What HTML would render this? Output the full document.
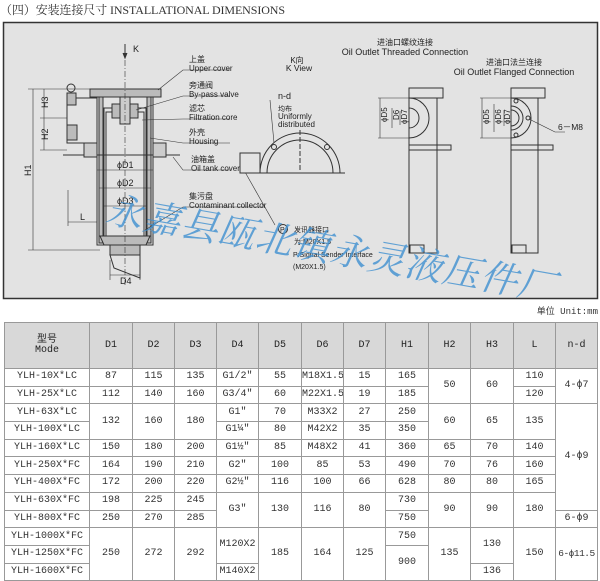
<!DOCTYPE html>
<html><head><meta charset="utf-8"><style>
body{margin:0;width:600px;height:580px;background:#fff;overflow:hidden;font-family:"Liberation Sans","Noto Sans CJK SC",sans-serif}
table{position:absolute;left:4px;top:322px;border-collapse:collapse;font-family:"Liberation Mono","Noto Sans CJK SC",monospace;font-size:10px;line-height:10px;color:#333;table-layout:fixed;width:593px}
td{border:1px solid #999;text-align:center;padding:0;height:16.7px;white-space:nowrap;overflow:hidden}
tr{height:17.7px}
tr.h{height:46px}
tr.h td{background:#d8d8d8;height:45px;font-weight:normal;color:#222}
</style></head><body>
<svg width="600" height="322" style="position:absolute;left:0;top:0" font-family="Liberation Sans, Noto Sans CJK SC, sans-serif">
<text x="0" y="14" font-family="Liberation Serif, Noto Serif CJK SC, serif" font-size="12" fill="#333" textLength="285">（四）安装连接尺寸  INSTALLATIONAL DIMENSIONS</text>
<rect x="3.5" y="22.5" width="594" height="276" fill="#e3e3e3" stroke="#333" stroke-width="1.5"/>
<g stroke="#333" fill="none" stroke-width="1">
<line x1="125" y1="44" x2="125" y2="57"/><path d="M123,53 L125,58 L127,53" fill="#333"/>
<rect x="90" y="89" width="71" height="8" fill="#bbb"/>
<rect x="97" y="97" width="56" height="148" />
<rect x="99" y="97" width="4" height="146" fill="#bbb"/>
<rect x="147" y="97" width="4" height="146" fill="#bbb"/>
<rect x="104" y="108" width="42" height="132"/>
<rect x="106" y="112" width="38" height="126"/>
<rect x="112" y="104" width="26" height="14" fill="#bbb"/>
<rect x="120" y="97" width="10" height="27" fill="#ccc"/>
<path d="M100,236 L150,236 L146,245 L104,245 Z" fill="#bbb"/>
<rect x="110" y="245" width="30" height="10" fill="#bbb"/>
<path d="M110,255 L140,255 L140,278 L114,268 Z"/>
<rect x="67" y="98" width="30" height="45" fill="#e3e3e3"/>
<rect x="67" y="125" width="10" height="15" fill="#bbb"/>
<rect x="67" y="93" width="9" height="12" fill="#bbb"/>
<circle cx="71" cy="88" r="4"/>
<line x1="63" y1="155" x2="180" y2="155"/>
<rect x="84" y="143" width="13" height="14" fill="#ccc"/>
<rect x="153" y="143" width="13" height="14" fill="#ccc"/>
<g stroke-width="0.6">
<line x1="33" y1="89" x2="33" y2="250"/><line x1="28" y1="89" x2="90" y2="89"/><line x1="28" y1="250" x2="100" y2="250"/>
<line x1="44" y1="89" x2="44" y2="150"/><line x1="40" y1="118" x2="67" y2="118"/><line x1="40" y1="150" x2="67" y2="150"/>
<line x1="68" y1="222" x2="97" y2="222"/><line x1="68" y1="190" x2="68" y2="226"/>
<line x1="97" y1="170" x2="153" y2="170"/><line x1="99" y1="188" x2="151" y2="188"/><line x1="104" y1="206" x2="146" y2="206"/>
<line x1="110" y1="275" x2="140" y2="275"/><line x1="110" y1="260" x2="110" y2="280"/><line x1="140" y1="260" x2="140" y2="280"/>
<line x1="125" y1="60" x2="125" y2="285" stroke-dasharray="6,2,1,2"/>
<polyline points="158,90 183,70 230,70"/><polyline points="136,110 183,96 230,96"/>
<polyline points="142,120 183,119 230,119"/><polyline points="150,138 183,143 230,143"/>
<polyline points="173,157 183,170 230,170"/><polyline points="145,230 183,207 265,207"/>
<polyline points="245,172 275,225"/>
</g>
<path d="M260,173 A40,40 0 0 1 340,173 M267,173 A33,33 0 0 1 333,173"/>
<line x1="240" y1="173" x2="345" y2="173"/>
<rect x="240" y="153" width="20" height="20" fill="#e3e3e3"/>
<circle cx="274" cy="147" r="2.5"/><circle cx="327" cy="147" r="2.5"/>
<line x1="300" y1="130" x2="300" y2="170" stroke-dasharray="5,2"/>
<line x1="270" y1="100" x2="274" y2="143" stroke-width="0.6"/>
<rect x="409" y="88" width="34" height="10"/><rect x="409" y="98" width="28" height="155"/>
<rect x="409" y="145" width="42" height="5"/><rect x="410" y="245" width="14" height="8"/>
<path d="M409,98 A20,20 0 0 1 409,138 M409,108 A10,10 0 0 1 409,128"/>
<g stroke-width="0.6"><line x1="378" y1="98" x2="409" y2="98"/><line x1="378" y1="138" x2="409" y2="138"/><line x1="380" y1="98" x2="380" y2="138"/><line x1="392" y1="108" x2="392" y2="128"/><line x1="400" y1="111" x2="400" y2="125"/></g>
<rect x="511" y="88" width="34" height="10"/><rect x="511" y="98" width="27" height="155"/>
<rect x="511" y="145" width="42" height="5"/><rect x="512" y="245" width="14" height="8"/>
<path d="M511,98 A20,20 0 0 1 511,138 M511,106 A12,12 0 0 1 511,130 M511,110 A8,8 0 0 1 511,126"/>
<circle cx="516" cy="101" r="2"/><circle cx="528" cy="118" r="2"/><circle cx="516" cy="135" r="2"/>
<g stroke-width="0.6"><line x1="480" y1="98" x2="511" y2="98"/><line x1="480" y1="138" x2="511" y2="138"/><line x1="482" y1="98" x2="482" y2="138"/><line x1="494" y1="104" x2="494" y2="132"/><line x1="504" y1="110" x2="504" y2="126"/><polyline points="529,119 555,132 565,132"/></g>
<circle cx="283" cy="229" r="4.5"/>
</g>
<g fill="#222" font-size="8">
<text x="133" y="52" font-size="9">K</text>
<text x="189" y="62">上盖</text><text x="189" y="71">Upper cover</text>
<text x="189" y="88">旁通阀</text><text x="189" y="97">By-pass valve</text>
<text x="189" y="111">滤芯</text><text x="189" y="120">Filtration core</text>
<text x="189" y="135">外壳</text><text x="189" y="144">Housing</text>
<text x="191" y="162">油箱盖</text><text x="191" y="171">Oil tank cover</text>
<text x="189" y="199">集污盘</text><text x="189" y="208">Contaminant collector</text>
<text x="117" y="168" font-size="9">ϕD1</text><text x="117" y="186" font-size="9">ϕD2</text><text x="117" y="204" font-size="9">ϕD3</text>
<text x="120" y="284" font-size="9">D4</text><text x="80" y="220" font-size="9">L</text>
<text transform="translate(31,176) rotate(-90)" font-size="9">H1</text>
<text transform="translate(48,108) rotate(-90)" font-size="9">H3</text>
<text transform="translate(48,140) rotate(-90)" font-size="9">H2</text>
<text x="297" y="63" text-anchor="middle">K向</text><text x="299" y="71" text-anchor="middle" font-size="8.5">K View</text>
<text x="278" y="99" font-size="9">n-d</text>
<text x="278" y="111" font-size="7">均布</text><text x="278" y="119">Uniformly</text><text x="278" y="127">distributed</text>
<text x="405" y="45" text-anchor="middle">进油口螺纹连接</text><text x="405" y="55" text-anchor="middle" font-size="9">Oil Outlet Threaded Connection</text>
<text x="514" y="65" text-anchor="middle">进油口法兰连接</text><text x="514" y="75" text-anchor="middle" font-size="9">Oil Outlet Flanged Connection</text>
<text x="558" y="130" font-size="8.5">6－M8</text>
<text x="280" y="232" font-size="7">P</text>
<text x="294" y="232" font-size="7">发讯器接口</text><text x="294" y="244" font-size="7">为:M20X1.5</text>
<text x="293" y="257" font-size="7">P:Signal Sender Interface</text><text x="293" y="269" font-size="7">(M20X1.5)</text>
<text transform="translate(387,122) rotate(-90)" font-size="8">ϕD5</text>
<text transform="translate(399,120) rotate(-90)" font-size="8">D6</text>
<text transform="translate(407,124) rotate(-90)" font-size="8">ϕD7</text>
<text transform="translate(489,124) rotate(-90)" font-size="8">ϕD5</text>
<text transform="translate(501,124) rotate(-90)" font-size="8">ϕD6</text>
<text transform="translate(510,124) rotate(-90)" font-size="8">ϕD7</text>
</g>
<text transform="translate(104,222) rotate(10)" font-family="Liberation Serif, Noto Serif CJK SC, serif" font-size="37" font-style="italic" fill="#3d8fd0" fill-opacity="0.8" letter-spacing="1">永嘉县瓯北镇永灵液压件厂</text>
<text x="598" y="314" text-anchor="end" font-family="Liberation Mono, Noto Sans CJK SC, monospace" font-size="9" fill="#333">单位 Unit:mm</text>
</svg>
<table>
<colgroup><col style="width:85px"><col style="width:43px"><col style="width:42px"><col style="width:42px"><col style="width:42px"><col style="width:43px"><col style="width:42px"><col style="width:42px"><col style="width:43px"><col style="width:42px"><col style="width:43px"><col style="width:42px"><col style="width:42px"></colgroup>
<tr class="h"><td>型号<br>Mode</td><td>D1</td><td>D2</td><td>D3</td><td>D4</td><td>D5</td><td>D6</td><td>D7</td><td>H1</td><td>H2</td><td>H3</td><td>L</td><td>n-d</td></tr>
<tr><td>YLH-10X*LC</td><td>87</td><td>115</td><td>135</td><td>G1/2"</td><td>55</td><td>M18X1.5</td><td>15</td><td>165</td><td rowspan="2">50</td><td rowspan="2">60</td><td>110</td><td rowspan="2">4-ϕ7</td></tr>
<tr><td>YLH-25X*LC</td><td>112</td><td>140</td><td>160</td><td>G3/4"</td><td>60</td><td>M22X1.5</td><td>19</td><td>185</td><td>120</td></tr>
<tr><td>YLH-63X*LC</td><td rowspan="2">132</td><td rowspan="2">160</td><td rowspan="2">180</td><td>G1"</td><td>70</td><td>M33X2</td><td>27</td><td>250</td><td rowspan="2">60</td><td rowspan="2">65</td><td rowspan="2">135</td><td rowspan="6">4-ϕ9</td></tr>
<tr><td>YLH-100X*LC</td><td>G1¼"</td><td>80</td><td>M42X2</td><td>35</td><td>350</td></tr>
<tr><td>YLH-160X*LC</td><td>150</td><td>180</td><td>200</td><td>G1½"</td><td>85</td><td>M48X2</td><td>41</td><td>360</td><td>65</td><td>70</td><td>140</td></tr>
<tr><td>YLH-250X*FC</td><td>164</td><td>190</td><td>210</td><td>G2"</td><td>100</td><td>85</td><td>53</td><td>490</td><td>70</td><td>76</td><td>160</td></tr>
<tr><td>YLH-400X*FC</td><td>172</td><td>200</td><td>220</td><td>G2½"</td><td>116</td><td>100</td><td>66</td><td>628</td><td>80</td><td>80</td><td>165</td></tr>
<tr><td>YLH-630X*FC</td><td>198</td><td>225</td><td>245</td><td rowspan="2">G3"</td><td rowspan="2">130</td><td rowspan="2">116</td><td rowspan="2">80</td><td>730</td><td rowspan="2">90</td><td rowspan="2">90</td><td rowspan="2">180</td></tr>
<tr><td>YLH-800X*FC</td><td>250</td><td>270</td><td>285</td><td>750</td><td>6-ϕ9</td></tr>
<tr><td>YLH-1000X*FC</td><td rowspan="3">250</td><td rowspan="3">272</td><td rowspan="3">292</td><td rowspan="2">M120X2</td><td rowspan="3">185</td><td rowspan="3">164</td><td rowspan="3">125</td><td>750</td><td rowspan="3">135</td><td rowspan="2">130</td><td rowspan="3">150</td><td rowspan="3" style="font-size:9.5px;letter-spacing:-0.5px">6-ϕ11.5</td></tr>
<tr><td>YLH-1250X*FC</td><td rowspan="2">900</td></tr>
<tr><td>YLH-1600X*FC</td><td>M140X2</td><td>136</td></tr>
</table>
</body></html>
